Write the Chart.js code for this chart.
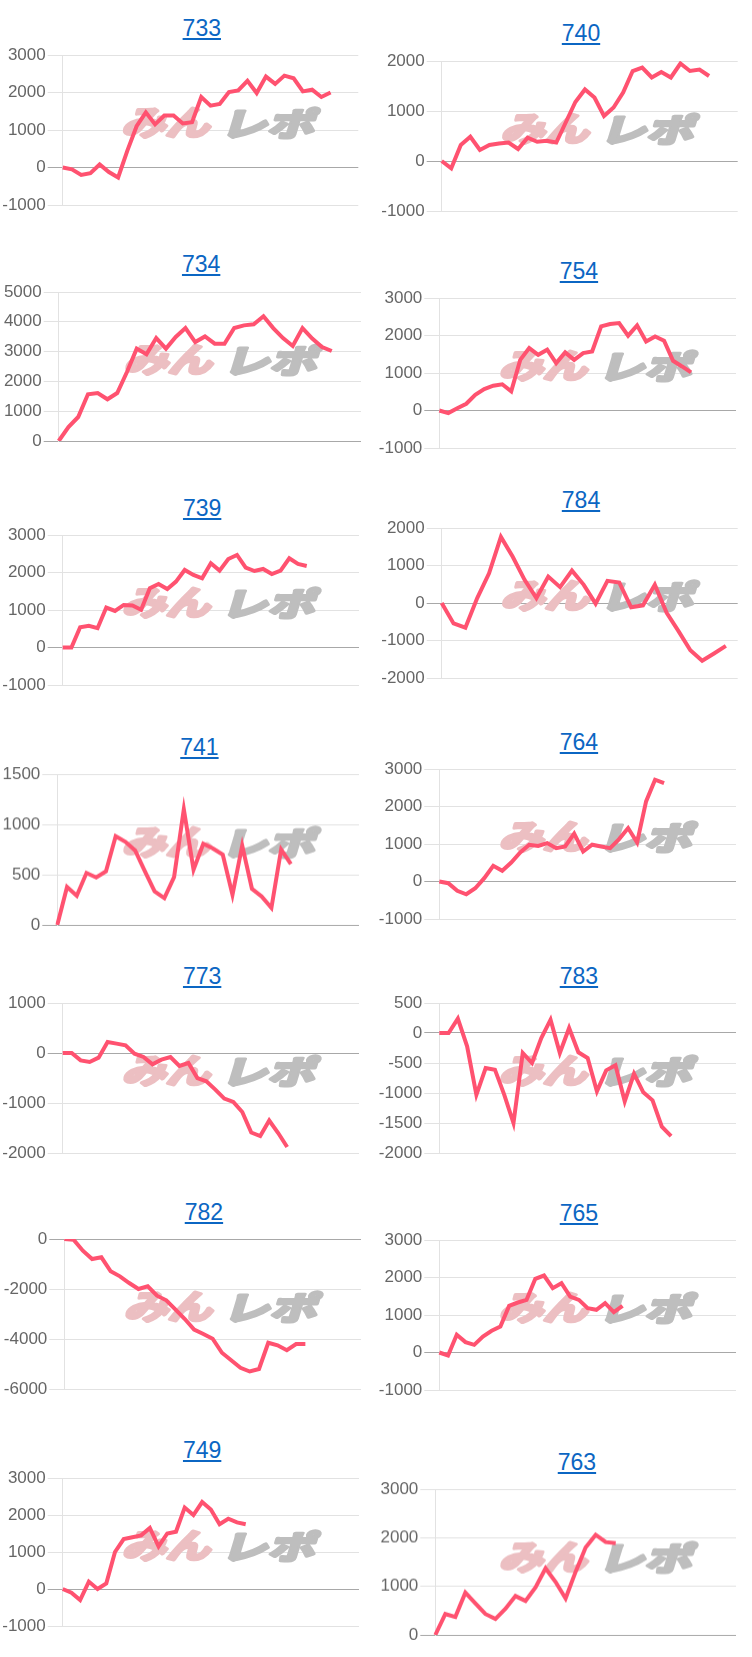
<!DOCTYPE html>
<html><head><meta charset="utf-8">
<script src="https://cdn.jsdelivr.net/npm/chart.js@4/dist/chart.umd.min.js"></script>
<style>
html,body{margin:0;padding:0;background:#fff}
body{width:752px;height:1657px;position:relative;overflow:hidden;font-family:"Liberation Sans",Arial,sans-serif}
a.t{position:absolute;font-size:23px;line-height:23px;color:#0b66c3;text-decoration:underline;white-space:nowrap;transform:translateX(-50%)}
canvas{position:absolute}
</style></head>
<body>
<script>
// ---- data ----
const machines = ["733","740","734","754","739","784","741","764","773","783","782","765","749","763"];
const slotCounts = [33,32,32,34,35,26,32,34,34,33,33,35,35,31];
const yMins  = [-1000,-1000,0,-1000,-1000,-2000,0,-1000,-2000,-2000,-6000,-1000,-1000,0];
const yMaxs  = [3000,2000,5000,3000,3000,2000,1500,3000,1000,500,0,3000,3000,3000];
const ySteps = [1000,1000,1000,1000,1000,1000,500,1000,1000,500,2000,1000,1000,1000];

const v733 = [0,-50,-200,-150,80,-120,-265,450,1100,1470,1150,1385,1385,1175,1210,1880,1650,1695,2010,2055,2310,1985,2425,2230,2450,2380,2030,2075,1880,2000];
const v740 = [0,-146,320,485,220,320,350,370,240,465,385,405,370,775,1180,1430,1270,900,1070,1370,1800,1870,1670,1780,1670,1950,1800,1830,1700];
const v734 = [0,470,805,1566,1610,1400,1610,2315,3100,2910,3455,3100,3490,3790,3320,3510,3265,3265,3790,3880,3915,4185,3790,3455,3190,3790,3435,3155,3020];
const v754 = [0,-70,60,180,420,570,660,700,510,1350,1665,1485,1620,1265,1550,1350,1530,1575,2245,2305,2330,1995,2270,1840,1975,1860,1325,1175,1015];
const v739 = [0,0,540,577,515,1065,975,1135,1120,1005,1580,1695,1560,1757,2068,1935,1846,2245,2050,2360,2467,2130,2040,2095,1960,2050,2380,2228,2175];
const v784 = [0,-546,-660,132,793,1762,1233,617,132,705,423,863,485,-18,590,546,-115,-62,485,-264,-749,-1260,-1542,-1348,-1145];
const v741 = [0,378,290,517,473,533,883,827,740,533,333,267,477,1150,550,807,760,700,300,790,360,283,170,750,607];
const v764 = [0,-45,-250,-340,-180,90,420,285,507,775,980,950,1025,890,935,1275,800,980,935,890,1130,1425,1040,2135,2715,2625];
const v773 = [0,0,-147,-180,-93,220,187,153,-13,-80,-227,-133,-80,-260,-200,-500,-567,-733,-913,-980,-1180,-1590,-1660,-1350,-1600,-1880];
const v783 = [0,0,240,-222,-1030,-583,-611,-1028,-1500,-333,-500,-83,222,-333,83,-322,-417,-972,-622,-539,-1139,-678,-989,-1122,-1560,-1720];
const v782 = [0,-27,-467,-800,-733,-1293,-1493,-1760,-2000,-1893,-2267,-2453,-2827,-3200,-3627,-3800,-3987,-4550,-4850,-5150,-5300,-5200,-4150,-4250,-4450,-4200,-4200];
const v765 = [0,-80,471,276,204,427,578,693,1244,1333,1404,1964,2053,1716,1849,1493,1404,1182,1138,1316,1076,1244];
const v749 = [0,-100,-300,200,0,150,1000,1350,1400,1450,1650,1150,1500,1550,2200,2000,2350,2150,1750,1900,1800,1750];
const v763 = [0,430,370,870,650,430,330,540,800,700,980,1370,1090,750,1300,1800,2060,1910,1890];
const series = [v733,v740,v734,v754,v739,v784,v741,v764,v773,v783,v782,v765,v749,v763];

// ---- layout (column x, plot top, plot left, plot right, plot height) ----
const frames = [
  [0,55,62.7,358.3,150],[376,60.7,441.7,737.7,150],
  [0,291.7,58.7,361,149],[376,298.3,439.3,736,150],
  [0,535,62.7,359,150],[376,527.7,441.7,737.7,150.5],
  [0,774.3,57.3,359,150.5],[376,769.3,439.3,736,150],
  [0,1003.3,62.7,359,150],[376,1003.3,439.3,736,150],
  [0,1239.3,64.3,361,150],[376,1240,439.3,736,150],
  [0,1477.7,62.7,359,148.5],[376,1489,435.3,736,145.5]
];
const PAD = 16, CW = 376;

function drawPart(ctx, txt, x, y, w, h, col){
  ctx.save();
  ctx.font = 'bold 40px "Noto Sans CJK JP"';
  ctx.textAlign = 'center';
  ctx.textBaseline = 'middle';
  const m = ctx.measureText(txt);
  const asc = m.actualBoundingBoxAscent || 18, desc = m.actualBoundingBoxDescent || 18;
  const tw = m.width, th = asc + desc;
  ctx.translate(x, y);
  ctx.transform(1,0,-0.3,1,0,0);
  ctx.scale(w/tw, h/th);
  ctx.fillStyle = col;
  ctx.strokeStyle = col;
  ctx.lineWidth = 4;
  ctx.lineJoin = 'round';
  ctx.strokeText(txt, 0, (asc-desc)/2);
  ctx.fillText(txt, 0, (asc-desc)/2);
  ctx.restore();
}
const wmPlugin = {
  id:'wm',
  beforeDatasetsDraw(chart){
    const {ctx, chartArea:a} = chart;
    const cx = a.right - 136.5, cy = a.top + 68;
    drawPart(ctx,'みん', cx-53, cy, 88, 31, 'rgb(236,191,194)');
    drawPart(ctx,'レポ', cx+49, cy, 94, 31, 'rgb(190,190,190)');
  }
};

machines.forEach((name, i) => {
  const [colX, pTop, pLeft, pRight, pH] = frames[i];
  const t = document.createElement('a');
  t.className = 't'; t.href = '#'; t.textContent = name;
  t.style.left = ((pLeft + pRight)/2 - 8.7) + 'px';
  t.style.top = (pTop - 27 - 11.5) + 'px';
  document.body.appendChild(t);

  const cv = document.createElement('canvas');
  cv.width = CW; cv.height = pH + 2*PAD;
  cv.style.left = colX + 'px'; cv.style.top = (pTop - PAD) + 'px';
  cv.style.width = CW + 'px'; cv.style.height = (pH + 2*PAD) + 'px';
  document.body.appendChild(cv);

  const labels = Array.from({length: slotCounts[i]}, (_, k) => String(k+1));
  const axisW = pLeft - colX;
  new Chart(cv, {
    type:'line',
    data:{labels, datasets:[{data: series[i], borderColor:'rgb(255,82,112)', borderWidth:4,
      pointRadius:0, pointHoverRadius:0, tension:0, fill:false}]},
    options:{
      responsive:false, animation:false, devicePixelRatio:1,
      layout:{autoPadding:false, padding:{left:0, right: CW - (pRight - colX), top:PAD, bottom:PAD}},
      plugins:{legend:{display:false}, tooltip:{enabled:false}, title:{display:false}},
      scales:{
        x:{display:false},
        y:{min:yMins[i], max:yMaxs[i],
           ticks:{stepSize:ySteps[i], color:'#666', padding:2, callback: v => String(v),
                  font:{size:17, family:'"Liberation Sans", Arial, sans-serif'}},
           grid:{color: c => (c.tick && c.tick.value === 0) ? '#a8a8a8' : '#e2e2e2', tickLength:15, lineWidth:1},
           border:{color:'#e2e2e2'},
           afterFit: s => { s.width = axisW; }
        }
      }
    },
    plugins:[wmPlugin]
  });
});
</script>
</body></html>
